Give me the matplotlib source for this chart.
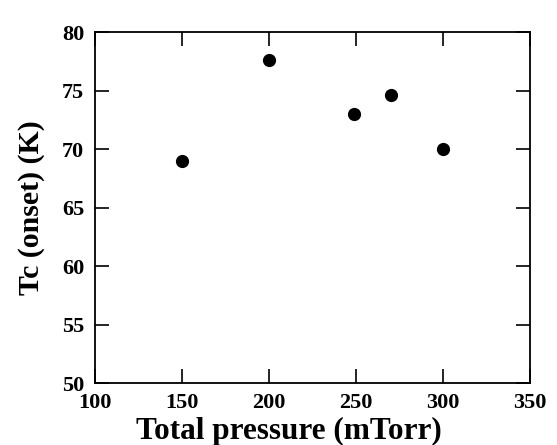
import matplotlib
matplotlib.use("Agg")
import matplotlib.pyplot as plt

pressure = [150, 200, 249, 270, 300]
tc_onset = [69.0, 77.6, 73.0, 74.6, 70.0]

xticks = [100, 150, 200, 250, 300, 350]
yticks = [50, 55, 60, 65, 70, 75, 80]

plt.rcParams['font.family'] = ['Liberation Serif', 'DejaVu Serif']

fig = plt.figure(figsize=(5.57, 4.45), dpi=100)
ax = fig.add_axes([0.171, 0.139, 0.780, 0.789])

ax.scatter(pressure, tc_onset, s=72, color="black", zorder=3)

ax.set_xlim(100, 350)
ax.set_ylim(50, 80)
ax.set_xticks(xticks)
ax.set_yticks(yticks)
ax.tick_params(direction="in", length=10, width=1.2, top=True, right=True,
               labelsize=16)
ax.tick_params(axis="x", pad=7)
ax.tick_params(axis="y", pad=8)
for lab in ax.get_xticklabels() + ax.get_yticklabels():
    lab.set_fontweight("bold")
for sp in ax.spines.values():
    sp.set_linewidth(1.3)

ax.set_xlabel("Total pressure (mTorr)", fontsize=22.5, fontweight="bold")
ax.xaxis.set_label_coords(0.446, -0.095)
ax.set_ylabel("Tc (onset) (K)", fontsize=21.5, fontweight="bold", labelpad=12)

fig.savefig("out.png", dpi=100)
